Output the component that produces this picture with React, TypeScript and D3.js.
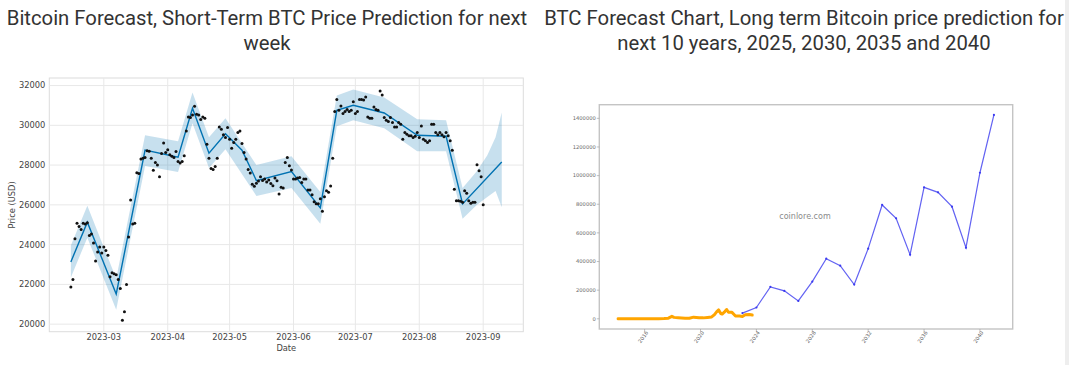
import React from 'react';
import * as d3 from 'd3';

// ---------- titles ----------
const titleLeft = ['Bitcoin Forecast, Short-Term BTC Price Prediction for next', 'week'];
const titleRight = ['BTC Forecast Chart, Long term Bitcoin price prediction for', 'next 10 years, 2025, 2030, 2035 and 2040'];

// ---------- short-term chart data ----------
const priceStart = '2023-02-13';
const dailyPrices = [
  // Feb 13-28
  21870, 22240, 24290, 25080, 24910, 24760, 25080, 25040, 25100, 24460, 24540, 24080, 23180, 23630, 23880, 23580,
  // Mar
  23880, 23710, 23460, 22380, 22590, 22540, 22490, 22240, 21790, 20200, 20620, 21990, 24380, 26240, 25040, 25080,
  27610, 27580, 28300, 28350, 28380, 28720, 28690, 28350, 27740, 28130, 28010, 27410, 28580, 29110, 28630,
  // Apr
  28770, 28520, 28450, 28380, 28680, 28180, 28110, 28180, 28470, 29720, 30420, 30390, 30520, 30960, 30560, 30520,
  30290, 30420, 30360, 29050, 28350, 27830, 27780, 27930, 28350, 29920, 29800, 29520, 29390, 29890,
  // May
  29300, 28850, 29140, 29300, 29640, 29720, 29090, 28630, 28300, 27780, 27600, 27040, 26940, 27090, 27200, 27410,
  27220, 27300, 27150, 27250, 27080, 26960, 27350, 27210, 26550, 26880, 26850, 28130, 28380, 27970, 27750,
  // Jun
  27300, 27300, 27350, 27380, 27130, 27300, 27300, 26750, 26750, 26510, 26160, 26050, 26050, 26310, 25680, 26410,
  26710, 26630, 26950, 28350, 30690, 31300, 30760, 30970, 30590, 30690, 30800, 30690, 30760, 31190,
  // Jul
  30590, 30690, 31300, 31300, 31270, 31420, 30420, 30350, 30350, 30920, 30790, 30760, 31720, 31520, 30390, 30250,
  30190, 30390, 30140, 29920, 29920, 30140, 30055, 29300, 29640, 29555, 29470, 29470, 29385, 29450, 29640,
  // Aug
  29385, 29970, 29300, 29220, 29135, 29220, 30055, 30055, 29640, 29520, 29640, 29520, 29420, 29640, 29470, 29220,
  28750, 26780, 26210, 26210, 26180, 26130, 26710, 26580, 26210, 26080, 26130, 26130, 28020, 27710, 27410,
  // Sep 1
  26010,
];

const trendDates = [
  '2023-02-13', '2023-02-21', '2023-03-07', '2023-03-21', '2023-04-06', '2023-04-13', '2023-04-21', '2023-04-29',
  '2023-05-07', '2023-05-14', '2023-05-31', '2023-06-14', '2023-06-22', '2023-06-30', '2023-07-15', '2023-07-31',
  '2023-08-14', '2023-08-22', '2023-09-10',
];
const trendValues = [
  23130, 25130, 21510, 28750, 28400, 30860, 28600, 29570, 28750, 27220, 27670, 25850, 30750, 31010, 30620, 29500,
  29450, 26050, 28160,
];

const bandDates = [
  '2023-02-13', '2023-02-21', '2023-03-07', '2023-03-21', '2023-04-06', '2023-04-13', '2023-04-21', '2023-04-29',
  '2023-05-14', '2023-05-31', '2023-06-14', '2023-06-22', '2023-06-30', '2023-07-15', '2023-07-31', '2023-08-14',
  '2023-08-22', '2023-08-29', '2023-09-03', '2023-09-07', '2023-09-10',
];
const bandLower = [
  22350, 24350, 20730, 27950, 27650, 30100, 27850, 28800, 26450, 26850, 25050, 29950, 30250, 29850, 28700, 28700,
  25300, 26000, 26400, 26700, 25880,
];
const bandUpper = [
  23950, 25950, 22300, 29500, 29200, 31650, 29400, 30350, 28000, 28450, 26650, 31500, 31800, 31400, 30300, 30250,
  26850, 27700, 28500, 29400, 30640,
];

const shortYTicks = [20000, 22000, 24000, 26000, 28000, 30000, 32000];
const shortXTicks = ['2023-03-01', '2023-04-01', '2023-05-01', '2023-06-01', '2023-07-01', '2023-08-01', '2023-09-01'];

// ---------- long-term chart data ----------
const histYears = [
  2014.1, 2014.5, 2015.0, 2015.5, 2016.0, 2016.5, 2017.0, 2017.4, 2017.7, 2017.95, 2018.1, 2018.4, 2018.9, 2019.2,
  2019.5, 2019.9, 2020.2, 2020.5, 2020.8, 2021.0, 2021.15, 2021.3, 2021.45, 2021.55, 2021.7, 2021.87, 2022.0,
  2022.25, 2022.4, 2022.5, 2022.8, 2023.0, 2023.2, 2023.5, 2023.7,
];
const histValues = [
  800, 600, 300, 250, 430, 650, 1000, 2300, 4500, 17000, 10000, 7500, 4000, 4000, 11500, 7200, 6500, 9500, 13000,
  29000, 48000, 62000, 37000, 33000, 46000, 65000, 46000, 45000, 30000, 20000, 19500, 16500, 28000, 30000, 26000,
];

const predYears = [2023, 2024, 2025, 2026, 2027, 2028, 2029, 2030, 2031, 2032, 2033, 2034, 2035, 2036, 2037, 2038, 2039, 2040, 2041];
const predValues = [
  40000, 79000, 223000, 195000, 125000, 260000, 420000, 371000, 239000, 490000, 795000, 702000, 448000, 918000,
  883000, 783000, 497000, 1020000, 1424000,
];

const longYTicks = [0, 200000, 400000, 600000, 800000, 1000000, 1200000, 1400000];
const longXTicks = [2016, 2020, 2024, 2028, 2032, 2036, 2040];

const parse = d3.timeParse('%Y-%m-%d');

function pad(ext: [number, number], f = 0.05): [number, number] {
  const r = ext[1] - ext[0];
  return [ext[0] - r * f, ext[1] + r * f];
}

function ShortChart() {
  const L = 49.3, R = 523.3, T = 78, B = 331.7;
  const start = parse(priceStart) as Date;
  const prices = dailyPrices.map((v, i) => ({ d: d3.timeDay.offset(start, i), v }));
  const trend = trendDates.map((d, i) => ({ d: parse(d) as Date, v: trendValues[i] }));
  const band = bandDates.map((d, i) => ({ d: parse(d) as Date, lo: bandLower[i], hi: bandUpper[i] }));

  const t0 = +prices[0].d;
  const t1 = +trend[trend.length - 1].d;
  const [xa, xb] = pad([t0, t1]);
  const x = d3.scaleTime().domain([new Date(xa), new Date(xb)]).range([L, R]);
  const ymin = Math.min(d3.min(dailyPrices)!, d3.min(bandLower)!);
  const ymax = Math.max(d3.max(dailyPrices)!, d3.max(bandUpper)!);
  const y = d3.scaleLinear().domain(pad([ymin, ymax])).range([B, T]);

  const area = d3.area<any>().x((d) => x(d.d)).y0((d) => y(d.lo)).y1((d) => y(d.hi));
  const line = d3.line<any>().x((d) => x(d.d)).y((d) => y(d.v));
  const fmt = d3.timeFormat('%Y-%m');
  const tickFont = { fontFamily: 'DejaVu Sans', fontSize: 8.3, fill: '#444' };

  return (
    <g>
      <rect x={L} y={T} width={R - L} height={B - T} fill="#fff" stroke="#dcdcdc" strokeWidth={1} />
      {shortXTicks.map((t) => {
        const xx = x(parse(t) as Date);
        return <line key={t} x1={xx} x2={xx} y1={T} y2={B} stroke="#e8e8e8" strokeWidth={1} />;
      })}
      {shortYTicks.map((t) => (
        <line key={t} x1={L} x2={R} y1={y(t)} y2={y(t)} stroke="#e8e8e8" strokeWidth={1} />
      ))}
      <path d={area(band) || ''} fill="#0072B2" fillOpacity={0.22} />
      <path d={line(trend) || ''} fill="none" stroke="#0072B2" strokeWidth={1.4} />
      {prices.map((p, i) => (
        <circle key={i} cx={x(p.d)} cy={y(p.v)} r={1.5} fill="#111" />
      ))}
      {shortYTicks.map((t) => (
        <text key={t} x={L - 4} y={y(t)} dy="0.35em" textAnchor="end" {...tickFont}>
          {t}
        </text>
      ))}
      {shortXTicks.map((t) => (
        <text key={t} x={x(parse(t) as Date)} y={B + 8.5} textAnchor="middle" {...tickFont}>
          {fmt(parse(t) as Date)}
        </text>
      ))}
      <text x={(L + R) / 2} y={350.5} textAnchor="middle" {...tickFont}>
        Date
      </text>
      <text
        transform={`translate(15,${(T + B) / 2}) rotate(-90)`}
        textAnchor="middle"
        {...tickFont}
      >
        Price (USD)
      </text>
    </g>
  );
}

function LongChart() {
  const L = 599.3, R = 1012.7, T = 104.7, B = 329;
  const allYears = histYears.concat(predYears);
  const x = d3.scaleLinear().domain(pad([d3.min(allYears)!, d3.max(allYears)!])).range([L, R]);
  const allVals = histValues.concat(predValues);
  const y = d3.scaleLinear().domain(pad([Math.min(0, d3.min(allVals)!), d3.max(allVals)!])).range([B, T]);

  const hist = histYears.map((yr, i) => ({ x: yr, v: histValues[i] }));
  const pred = predYears.map((yr, i) => ({ x: yr, v: predValues[i] }));
  const line = d3.line<any>().x((d) => x(d.x)).y((d) => y(d.v));
  const lbl = { fontFamily: 'DejaVu Sans', fontSize: 5.2, fill: '#666' };

  return (
    <g>
      <rect x={L} y={T} width={R - L} height={B - T} fill="#fff" stroke="#c4c4c4" strokeWidth={1.4} />
      {longYTicks.map((t) => (
        <g key={t}>
          <line x1={L - 2.5} x2={L} y1={y(t)} y2={y(t)} stroke="#999" strokeWidth={0.6} />
          <text x={L - 3.5} y={y(t)} dy="0.35em" textAnchor="end" {...lbl}>
            {t}
          </text>
        </g>
      ))}
      {longXTicks.map((t) => (
        <g key={t}>
          <line x1={x(t)} x2={x(t)} y1={B} y2={B + 2.5} stroke="#999" strokeWidth={0.6} />
          <text transform={`translate(${x(t)},${B + 9}) rotate(-55)`} textAnchor="middle" {...lbl}>
            {t}
          </text>
        </g>
      ))}
      <text x={805} y={219} textAnchor="middle" fontFamily="DejaVu Sans" fontSize={8} fill="#8a8a8a">
        coinlore.com
      </text>
      <path d={line(hist) || ''} fill="none" stroke="#FFA500" strokeWidth={3} strokeLinejoin="round" strokeLinecap="round" />
      <path d={line(pred) || ''} fill="none" stroke="#4646f0" strokeOpacity={0.85} strokeWidth={1.2} />
      {pred.map((p, i) => (
        <circle key={i} cx={x(p.x)} cy={y(p.v)} r={1.1} fill="#3a3af0" />
      ))}
    </g>
  );
}

export default function App() {
  const titleStyle = { fontFamily: 'Roboto', fontSize: 20.3, fill: '#333' };
  return (
    <svg
      width={1069}
      height={365}
      style={{ position: 'absolute', left: 0, top: 0, background: '#fff' }}
    >
      <rect width={1069} height={365} fill="#fff" />
      {titleLeft.map((t, i) => (
        <text key={t} x={267} y={24.5 + i * 25.5} textAnchor="middle" {...titleStyle}>
          {t}
        </text>
      ))}
      {titleRight.map((t, i) => (
        <text key={t} x={804} y={24.5 + i * 25.5} textAnchor="middle" {...titleStyle}>
          {t}
        </text>
      ))}
      <ShortChart />
      <LongChart />
      <rect x={1065} y={0} width={4} height={365} fill="#eeeeee" />
    </svg>
  );
}
